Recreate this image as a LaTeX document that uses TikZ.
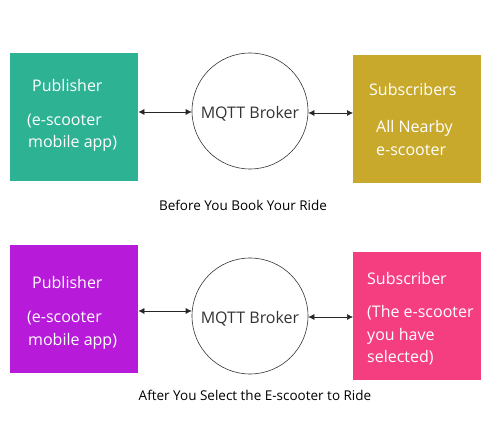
\documentclass[tikz,border=0pt]{standalone}
\usepackage{fontspec}
\setmainfont{Open Sans}
\usetikzlibrary{arrows.meta}
\definecolor{pubgreen}{HTML}{2DB394}
\definecolor{subgold}{HTML}{C9A92C}
\definecolor{pubpurple}{HTML}{B81ADA}
\definecolor{subpink}{HTML}{F53E80}
\definecolor{brokertext}{HTML}{333333}
\tikzset{
  box/.style={draw=none, minimum width=128pt, minimum height=128pt, inner sep=0pt},
  broker/.style={circle, draw=black!80, line width=0.6pt, minimum size=116pt, inner sep=0pt,
    label={[font=\fontsize{16}{18}\selectfont, text=brokertext, yshift=-3pt, inner sep=0pt]center:#1}},
  wtext/.style={text=white, anchor=west, inner sep=0pt, font=\fontsize{16}{18}\selectfont},
  caption/.style={text=black, inner sep=0pt, font=\fontsize{13.5}{15}\selectfont},
  link/.style={draw=black!85, line width=0.6pt, {Latex[length=6pt,width=6pt]}-{Latex[length=6pt,width=6pt]}}
}
\begin{document}
\begin{tikzpicture}[x=1pt,y=-1pt]
\useasboundingbox (0,0) rectangle (500,443);
% top row
\node[box, fill=pubgreen, anchor=north west] (pub1) at (10,53) {};
\node[broker={MQTT Broker}] (br1) at (250,111) {};
\node[box, fill=subgold, anchor=north west] (sub1) at (353,55) {};
\node[wtext] (pub1a) at (32,86) {Publisher};
\node[wtext] (pub1b) at (27,121) {(e-scooter};
\node[wtext] (pub1c) at (28,143) {mobile app)};
\node[wtext] (sub1a) at (369,90) {Subscribers};
\node[wtext] (sub1b) at (376,128) {All Nearby};
\node[wtext] (sub1c) at (376,150) {e-scooter};
\coordinate (l1a) at (pub1.east |- 0,112);
\coordinate (l1b) at (br1.west |- 0,112);
\coordinate (r1a) at (br1.east |- 0,113);
\coordinate (r1b) at (sub1.west |- 0,113);
\draw[link] (l1a) -- (l1b);
\draw[link] (r1a) -- (r1b);
\node[caption] (cap1) at (243,205) {Before You Book Your Ride};
% bottom row
\node[box, fill=pubpurple, anchor=north west] (pub2) at (10,245) {};
\node[broker={MQTT Broker}] (br2) at (250,316) {};
\node[box, fill=subpink, anchor=north west] (sub2) at (353,252) {};
\node[wtext] (pub2a) at (32,283) {Publisher};
\node[wtext] (pub2b) at (27,318) {(e-scooter};
\node[wtext] (pub2c) at (28,341) {mobile app)};
\node[wtext] (sub2a) at (367,278) {Subscriber};
\node[wtext] (sub2b) at (367,313) {(The e-scooter};
\node[wtext] (sub2c) at (367,336) {you have};
\node[wtext] (sub2d) at (367,358) {selected)};
\coordinate (l2a) at (pub2.east |- 0,311);
\coordinate (l2b) at (br2.west |- 0,311);
\coordinate (r2a) at (br2.east |- 0,317);
\coordinate (r2b) at (sub2.west |- 0,317);
\draw[link] (l2a) -- (l2b);
\draw[link] (r2a) -- (r2b);
\node[caption] (cap2) at (255,395) {After You Select the E-scooter to Ride};
\end{tikzpicture}
\end{document}
